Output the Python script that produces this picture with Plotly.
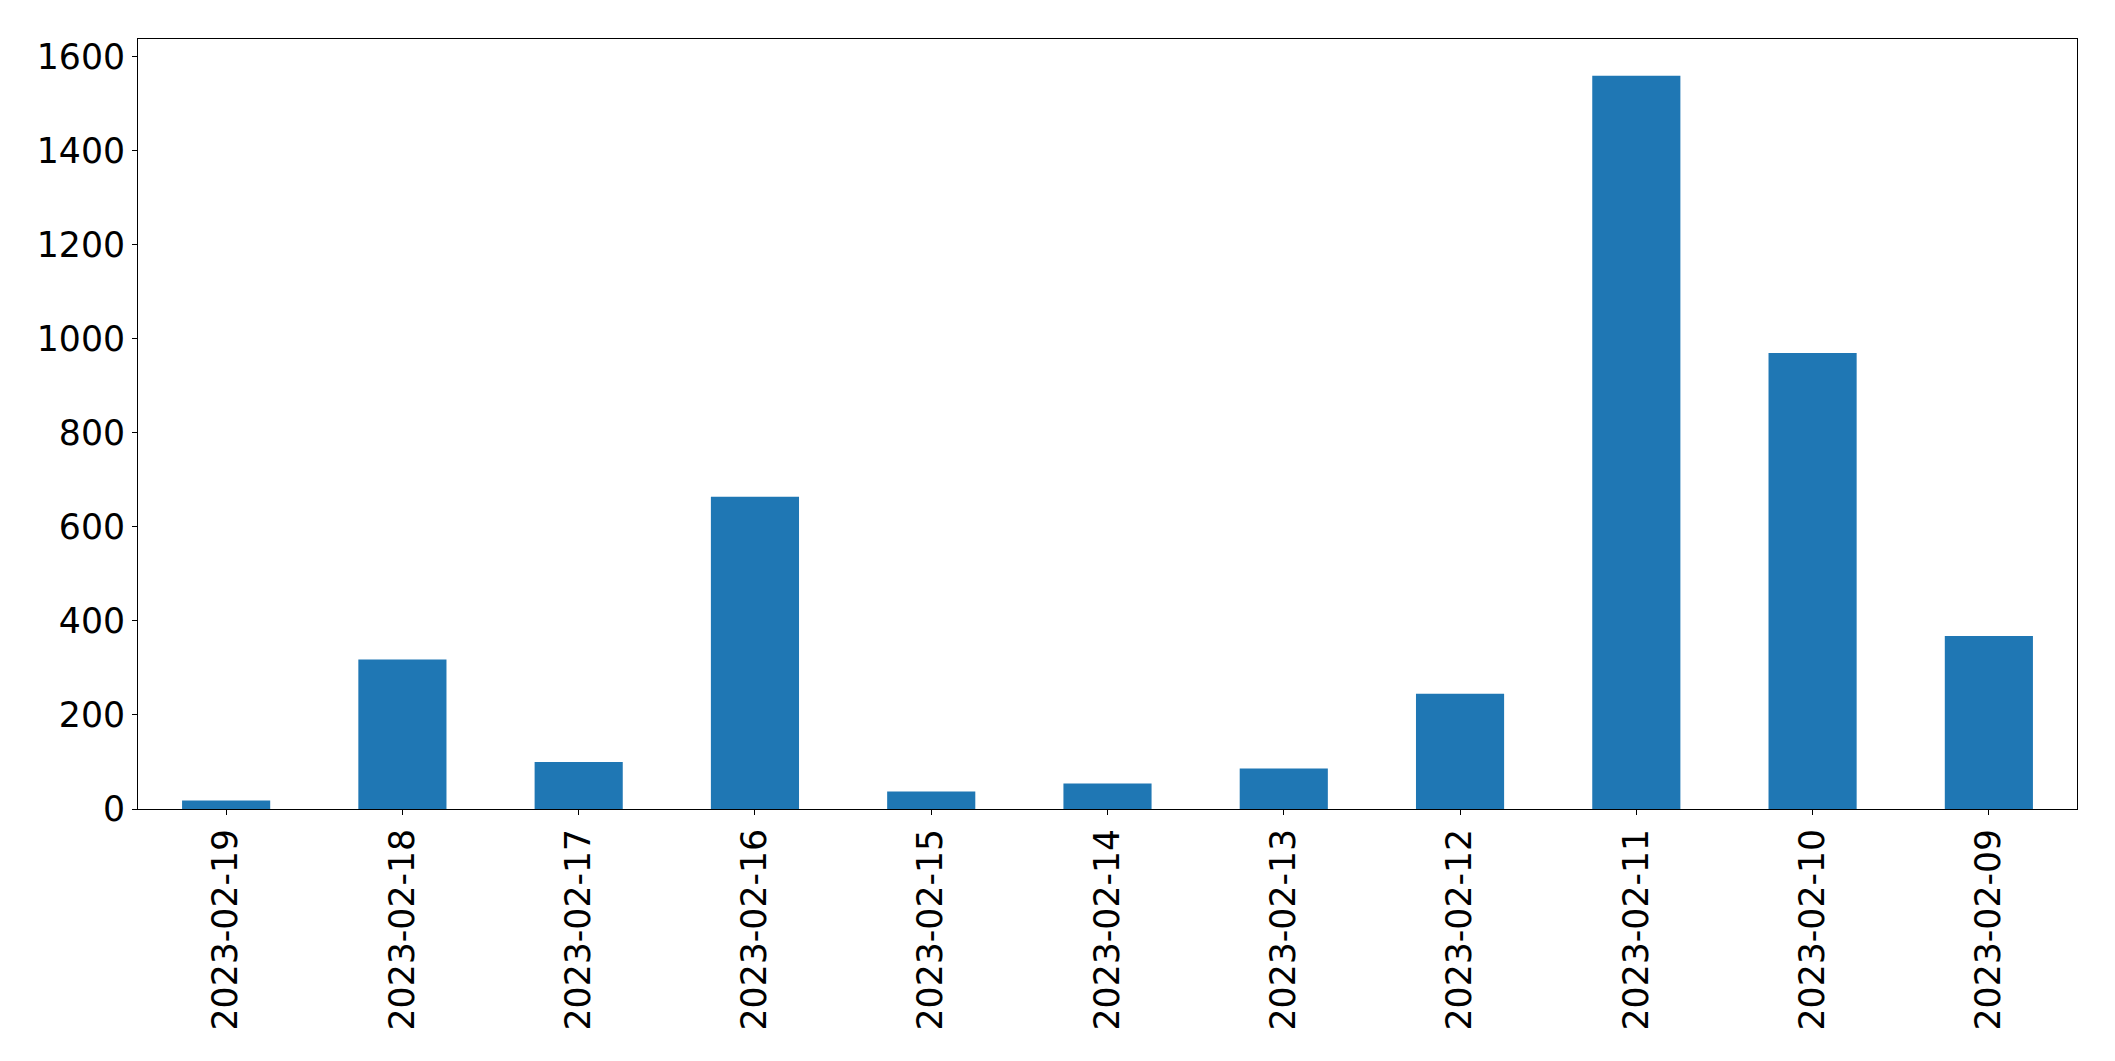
import plotly.graph_objects as go

dates = ["2023-02-19", "2023-02-18", "2023-02-17", "2023-02-16", "2023-02-15",
         "2023-02-14", "2023-02-13", "2023-02-12", "2023-02-11", "2023-02-10",
         "2023-02-09"]
counts = [18, 318, 100, 664, 37, 54, 86, 245, 1560, 970, 368]
y_ticks = [0, 200, 400, 600, 800, 1000, 1200, 1400, 1600]

fig = go.Figure()
fig.add_trace(go.Bar(
    x=dates,
    y=counts,
    marker_color="#1f77b4",
    marker_line_width=0
))

axis_style = dict(
    showline=True,
    linecolor="black",
    linewidth=1,
    mirror=True,
    showgrid=False,
    zeroline=False,
    ticks="outside",
    ticklen=5,
    tickwidth=1,
    tickcolor="black",
    tickfont=dict(family="DejaVu Sans", size=34.7, color="black"),
)

# page body has an 8px margin, so the figure is a bit smaller than the window
fig.update_layout(
    width=2107,
    height=1053,
    paper_bgcolor="white",
    plot_bgcolor="white",
    bargap=0.5,
    showlegend=False,
    margin=dict(l=130, r=38, t=31, b=252),
    xaxis=dict(axis_style, type="category", tickangle=-90, range=[-0.5, 10.5]),
    yaxis=dict(axis_style, range=[0, 1638], tickvals=y_ticks),
)

fig.write_html("out.html")
